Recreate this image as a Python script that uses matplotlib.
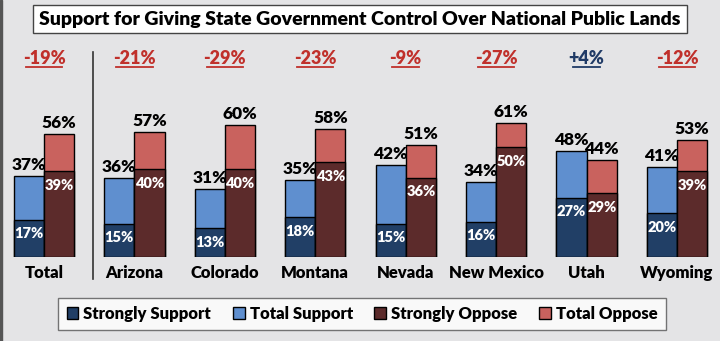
import matplotlib.pyplot as plt
from matplotlib.patches import Patch
import numpy as np

plt.rcParams['font.family'] = ['Lato', 'DejaVu Sans']
WT = "heavy"

states = ["Total", "Arizona", "Colorado", "Montana", "Nevada",
          "New Mexico", "Utah", "Wyoming"]
strongly_support = [17, 15, 13, 18, 15, 16, 27, 20]
total_support = [37, 36, 31, 35, 42, 34, 48, 41]
strongly_oppose = [39, 40, 40, 43, 36, 50, 29, 39]
total_oppose = [56, 57, 60, 58, 51, 61, 44, 53]
net = ["-19%", "-21%", "-29%", "-23%", "-9%", "-27%", "+4%", "-12%"]

c_ss = "#213f66"
c_ts = "#5f8fcf"
c_so = "#5c2b2b"
c_to = "#c9625e"
bg = "#e4e4e6"

W, H = 720, 341
fig = plt.figure(figsize=(W / 100, H / 100), dpi=100, facecolor=bg)

# bar area: baseline at y=257px, 2.2 px per percent, group step ~90.4 px
ax = fig.add_axes([0, 84 / H, 1, 217 / H])
ax.set_facecolor("none")
step = 90.43
ax.set_xlim(-44 / step, (W - 44) / step)
ax.set_ylim(0, 217 / 2.2)
ax.axis("off")

x = np.arange(len(states))
bw = 1 / 3
xs = x - bw / 2
xo = x + bw / 2

ax.bar(xs, total_support, bw, color=c_ts, edgecolor="black", lw=1)
ax.bar(xs, strongly_support, bw, color=c_ss, edgecolor="black", lw=1)
ax.bar(xo, total_oppose, bw, color=c_to, edgecolor="black", lw=1)
ax.bar(xo, strongly_oppose, bw, color=c_so, edgecolor="black", lw=1)

for i in range(len(states)):
    ax.annotate("%d%%" % total_support[i], (xs[i], total_support[i]),
                xytext=(0, 3), textcoords="offset pixels", ha="center",
                va="bottom", fontsize=12.5, fontweight=WT)
    ax.annotate("%d%%" % total_oppose[i], (xo[i], total_oppose[i]),
                xytext=(0, 3), textcoords="offset pixels", ha="center",
                va="bottom", fontsize=12.5, fontweight=WT)
    ax.annotate("%d%%" % strongly_support[i], (xs[i], strongly_support[i]),
                xytext=(0, -14), textcoords="offset pixels", ha="center",
                va="center", fontsize=10.5, fontweight=WT, color="white")
    ax.annotate("%d%%" % strongly_oppose[i], (xo[i], strongly_oppose[i]),
                xytext=(0, -14), textcoords="offset pixels", ha="center",
                va="center", fontsize=10.5, fontweight=WT, color="white")
    col = "#1f3a66" if net[i].startswith("+") else "#c0302b"
    ax.text(x[i], (257 - 59) / 2.2, net[i], ha="center", va="center",
            fontsize=13, fontweight=WT, color=col, clip_on=False)
    tw = len(net[i]) * 0.05
    ax.plot([x[i] - tw, x[i] + tw], [(257 - 67) / 2.2] * 2, color=col,
            lw=1.3, clip_on=False)
    ax.text(x[i], -16 / 2.2, states[i], ha="center", va="center",
            fontsize=12, fontweight=WT, clip_on=False)

# divider between Total and the states
ax.plot([(93 - 44) / step] * 2, [-22 / 2.2, (257 - 52) / 2.2],
        color="#333333", lw=1.2, clip_on=False)

# title box
fig.text(0.5, 1 - 19 / H, "Support for Giving State Government Control Over National Public Lands",
         ha="center", va="center", fontsize=14, fontweight=WT,
         bbox=dict(boxstyle="square,pad=0.3", fc="white", ec="#444444", lw=1))

handles = [Patch(fc=c_ss, ec="black"), Patch(fc=c_ts, ec="black"),
           Patch(fc=c_so, ec="black"), Patch(fc=c_to, ec="black")]
labels = ["Strongly Support", "Total Support", "Strongly Oppose", "Total Oppose"]
leg = fig.legend(handles, labels, loc="center", bbox_to_anchor=(362 / W, 1 - 314 / H),
                 ncol=4, frameon=True, fancybox=False, edgecolor="#555555",
                 prop={"weight": WT, "size": 12},
                 handlelength=0.7, handleheight=0.7, handletextpad=0.3,
                 columnspacing=1.3, borderpad=0.5, borderaxespad=0)
leg.get_frame().set_linewidth(1)

fig.patches.append(plt.Rectangle((0, 0), 2 / W, 1, transform=fig.transFigure,
                                 color="#555555", figure=fig))

fig.savefig("out.png", dpi=100, facecolor=bg)
